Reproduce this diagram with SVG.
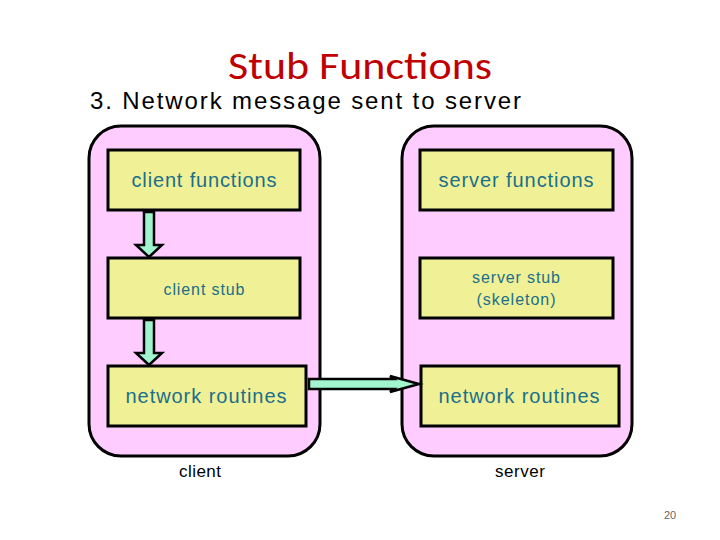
<svg xmlns="http://www.w3.org/2000/svg" width="720" height="540" viewBox="0 0 720 540">
<style>
.cont{fill:#FFCCFF;stroke:#000;stroke-width:3}
.box{fill:#F0F096;stroke:#000;stroke-width:3}
.lbl{font-family:"Liberation Sans",Arial,sans-serif;fill:#1A6F8A;text-anchor:middle}
.cap{font-family:"Liberation Sans",Arial,sans-serif;fill:#000;text-anchor:middle;font-size:17px}
.arr{fill:#A0F5D0;stroke:#000;stroke-width:2.5;stroke-linejoin:miter}
</style>
<rect width="720" height="540" fill="#fff"/>
<text x="360" y="79" font-family="Carlito,'Liberation Sans',sans-serif" font-size="39" fill="#C00000" text-anchor="middle" textLength="264" lengthAdjust="spacingAndGlyphs">Stub Functions</text>
<text x="90" y="109" font-family="'Liberation Sans',Arial,sans-serif" font-size="24" fill="#000" textLength="431">3. Network message sent to server</text>
<g id="client">
<rect class="cont" x="89" y="126" width="231" height="330" rx="32"/>
<text class="cap" x="200" y="477" textLength="42">client</text>
</g>
<g id="server">
<rect class="cont" x="402" y="126" width="230" height="330" rx="32"/>
<text class="cap" x="520" y="477" textLength="50">server</text>
</g>
<g id="client-functions">
<rect class="box" x="108" y="150" width="192" height="60"/>
<text class="lbl" x="204" y="187" font-size="20" textLength="145">client functions</text>
</g>
<g id="client-stub">
<rect class="box" x="108" y="258" width="192" height="60"/>
<text class="lbl" x="204" y="295" font-size="16" textLength="81">client stub</text>
</g>
<g id="client-network">
<rect class="box" x="108" y="366" width="198" height="60"/>
<text class="lbl" x="206" y="403" font-size="20" textLength="161">network routines</text>
</g>
<g id="server-functions">
<rect class="box" x="420" y="150" width="193" height="60"/>
<text class="lbl" x="516" y="187" font-size="20" textLength="155">server functions</text>
</g>
<g id="server-stub">
<rect class="box" x="420" y="258" width="193" height="60"/>
<text class="lbl" x="516" y="283" font-size="16" textLength="88">server stub</text>
<text class="lbl" x="516" y="305" font-size="16" textLength="79">(skeleton)</text>
</g>
<g id="server-network">
<rect class="box" x="421" y="366" width="198" height="60"/>
<text class="lbl" x="519" y="403" font-size="20" textLength="161">network routines</text>
</g>
<g id="connectors">
<path class="arr" d="M144,212 L154,212 L154,245 L162,245 L149,257 L136,245 L144,245 Z"/>
<path class="arr" d="M144,320 L154,320 L154,353 L162,353 L149,365 L136,353 L144,353 Z"/>
<path class="arr" d="M309,379 L394,379 L390,376 L419,384 L390,392 L394,389 L309,389 Z"/>
</g>
<text x="670" y="519" font-family="'Liberation Sans',Arial,sans-serif" font-size="11" fill="#666" text-anchor="middle">20</text>
</svg>
